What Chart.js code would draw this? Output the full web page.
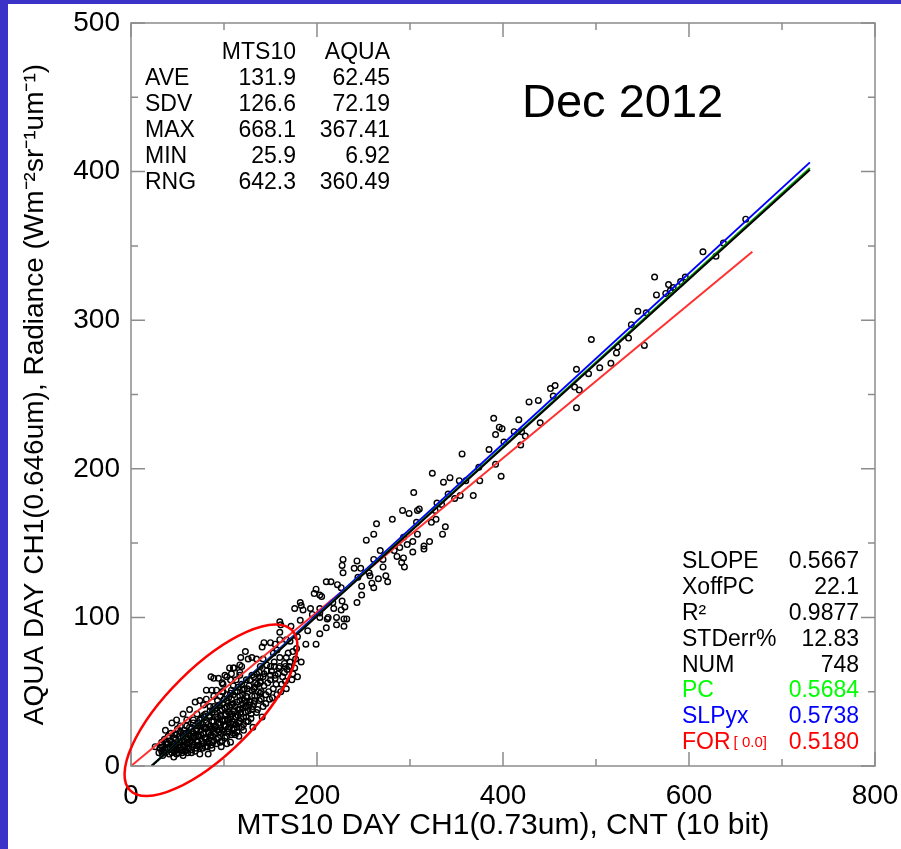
<!DOCTYPE html>
<html>
<head>
<meta charset="utf-8">
<script src="https://cdn.jsdelivr.net/npm/chart.js@4.4.1/dist/chart.umd.min.js"></script>
<style>
  html, body { margin: 0; padding: 0; background: #3b33c8; }
  #wrap { position: absolute; left: 8px; top: 4px; width: 893px; height: 845px; background: #fff; }
</style>
</head>
<body>
<div id="wrap"><canvas id="myChart" width="893" height="845"></canvas></div>
<script>
// MTS10 counts (x) and AQUA radiance (y)
const mtsCounts = [
  661, 637, 615, 629, 563, 578, 591, 596, 565, 575, 580, 583, 545, 554, 538, 495, 535, 523, 522, 552,
  479, 492, 504, 516, 477, 482, 479,
  456, 451, 454, 438, 428, 440, 417, 412, 420, 424, 419, 390, 396, 399, 392, 401, 385, 356, 374, 392,
  398, 375, 324, 336, 343, 353, 360, 341, 354, 348, 368, 329, 334, 327, 323, 328, 338,
  304, 335, 292, 299, 308, 310, 281, 264, 307, 261, 253, 293, 297, 303, 308, 321, 315, 315, 303, 289,
  283, 268, 286, 293, 291, 294, 261, 271, 271, 228, 243, 240, 247, 228, 244, 256, 257, 266, 274, 276,
  248, 259, 261, 248, 210, 215, 222, 226, 199, 197, 205, 227, 230, 243, 217, 218, 226, 203, 195, 203,
  212, 221, 232, 182, 185,
  227, 203, 183, 176, 193, 203, 211, 229, 229, 221, 210, 203, 190, 182, 172, 160, 161, 160, 167, 171,
  179, 188, 199, 178, 174, 160, 155, 150, 143, 141, 157, 153, 160, 167, 169, 165, 166, 160, 154, 150,
  146, 150, 155, 142, 135, 123, 118, 126, 130, 119, 110, 106, 139, 135, 142, 130, 124, 139, 132, 117,
  113, 110, 103, 99, 98, 107,
  117, 111, 117, 108, 86, 89, 94, 98, 101, 107, 81, 87, 92, 99, 108, 115, 121, 124, 133, 139,
  139, 132, 124, 124, 130, 117, 110, 103, 96, 89, 81, 74, 69, 78, 85, 92, 101, 107, 112, 117,
  124, 121, 63, 56, 71, 78, 85, 94, 101, 107, 114, 37, 44, 49, 53, 60, 67, 74, 81, 89,
  98, 105, 112, 40, 47, 56, 63, 72, 80, 89, 96, 103, 33, 38, 46, 53, 62, 71, 80, 87,
  31, 37, 44, 51, 58, 65, 74, 83, 56, 46, 34, 26,
  30, 32, 35, 36, 39, 41, 42, 43, 45, 47, 48, 50, 51, 52, 54, 55, 57, 58, 59, 60,
  61, 62, 64, 65, 66, 67, 68, 69, 70, 71, 72, 73, 75, 76, 77, 78, 79, 80, 82, 83,
  84, 85, 86, 87, 88, 89, 90, 91, 92, 93, 94, 95, 96, 97, 98, 99, 100, 101, 102, 103,
  104, 105, 106, 107, 108, 109, 110, 111, 112, 113, 114, 115, 116, 117, 118, 119, 120, 121, 122, 123,
  125, 126, 127, 128, 129, 130, 131, 133, 134, 136, 137, 138, 140, 141, 143, 145, 146, 148, 150, 152,
  154, 156, 158, 161, 163, 166, 168, 171, 174, 177,
  33, 34, 37, 38, 40, 40, 42, 44, 44, 46, 46, 48, 49, 49, 50, 52, 53, 53, 55, 56,
  56, 57, 58, 59, 60, 61, 62, 63, 63, 64, 65, 66, 66, 67, 68, 69, 70, 70, 71, 72,
  73, 74, 74, 75, 76, 77, 78, 78, 79, 80, 81, 81, 82, 83, 84, 84, 85, 86, 87, 87,
  88, 89, 90, 90, 91, 92, 93, 93, 94, 95, 96, 96, 97, 98, 98, 99, 100, 100, 101, 102,
  103, 103, 104, 105, 105, 106, 107, 108, 108, 109, 110, 110, 111, 112, 113, 114, 114, 115, 116, 117,
  118, 119, 120, 120, 121, 122, 123, 124, 125, 126, 127, 128, 129, 130, 131, 132, 133, 135, 136, 138,
  139, 140, 142, 143, 145, 147, 149, 151, 153, 155, 157, 159, 162, 165, 167, 170, 173, 176, 179, 183
];
const aquaRadiance = [
  368, 352, 346, 343, 329, 324, 326, 329, 317, 318, 320, 322, 306, 305, 297, 287, 288, 282, 278, 283,
  267, 264, 268, 271, 255, 253, 241,
  256, 254, 249, 246, 245, 231, 233, 225, 225, 222, 216, 234, 228, 227, 223, 218, 213, 210, 201, 203,
  195, 192, 197, 191, 194, 192, 192, 183, 182, 180, 182, 177, 176, 172, 164, 166, 161,
  184, 156, 172, 170, 172, 173, 166, 163, 164, 156, 152, 154, 149, 151, 156, 151, 148, 146, 144, 147,
  145, 145, 141, 140, 137, 134, 139, 139, 134, 139, 138, 133, 133, 130, 127, 130, 128, 126, 128, 124,
  121, 123, 120, 115, 124, 124, 122, 120, 119, 116, 114, 111, 107, 110, 110, 106, 105, 106, 102, 100,
  100, 100, 99, 110, 105,
  135, 115, 108, 106, 106, 103, 99, 99, 94, 95, 93, 89, 91, 98, 94, 97, 95, 90, 85, 84,
  87, 82, 82, 79, 77, 85, 82, 83, 83, 80, 78, 76, 73, 73, 76, 69, 67, 67, 67, 67,
  64, 61, 61, 72, 72, 77, 73, 72, 73, 67, 66, 66, 67, 62, 60, 61, 58, 56, 52, 61,
  58, 54, 60, 55, 50, 49,
  68, 66, 63, 62, 60, 59, 59, 56, 61, 58, 51, 51, 51, 50, 51, 53, 51, 47, 53, 57,
  49, 42, 43, 40, 38, 38, 42, 44, 47, 47, 45, 44, 43, 41, 40, 39, 39, 35, 33, 30,
  33, 24, 38, 35, 35, 34, 33, 32, 31, 29, 26, 24, 29, 31, 27, 31, 29, 27, 26, 25,
  24, 23, 21, 20, 21, 22, 21, 20, 19, 17, 16, 15, 16, 15, 15, 16, 15, 14, 13, 12,
  12, 11, 11, 9, 11, 9, 8, 8, 7, 6, 7, 13,
  9, 14, 10, 18, 12, 8, 17, 22, 13, 10, 18, 25, 14, 20, 11, 17, 24, 13, 19, 27,
  9, 22, 17, 25, 13, 31, 20, 10, 24, 17, 29, 14, 21, 32, 12, 26, 19, 35, 16, 28,
  22, 37, 14, 30, 20, 40, 26, 33, 18, 44, 29, 23, 37, 13, 31, 42, 27, 19, 35, 48,
  25, 31, 40, 16, 45, 30, 22, 37, 50, 28, 43, 34, 20, 47, 32, 55, 39, 28, 44, 36,
  52, 30, 41, 58, 35, 47, 26, 44, 56, 38, 50, 63, 45, 33, 54, 42, 68, 50, 58, 46,
  70, 55, 62, 50, 60, 57, 65, 70, 62, 72,
  10, 13, 9, 16, 11, 15, 12, 9, 16, 19, 12, 14, 8, 21, 11, 16, 13, 23, 9, 20,
  14, 17, 10, 22, 15, 18, 12, 26, 16, 20, 11, 23, 16, 19, 14, 27, 21, 12, 25, 16,
  20, 31, 13, 24, 17, 28, 22, 15, 33, 25, 18, 29, 13, 23, 34, 17, 27, 21, 36, 25,
  16, 30, 22, 38, 27, 15, 33, 24, 19, 41, 28, 34, 22, 17, 38, 30, 23, 45, 34, 27,
  20, 40, 31, 46, 36, 26, 33, 21, 41, 35, 28, 48, 25, 40, 33, 23, 50, 38, 29, 44,
  36, 26, 48, 42, 33, 52, 40, 30, 46, 37, 54, 43, 32, 51, 40, 60, 47, 36, 55, 44,
  60, 50, 40, 62, 48, 56, 45, 64, 52, 59, 48, 66, 55, 63, 52, 67, 58, 66, 60, 70
];

// fit lines: [x0, x1] and [y0, y1]
const fitLineX = [22.1, 730];
const slopeLineY = [0, 401.2];   // SLOPE 0.5667, black
const pcLineY = [0, 402.4];      // PC 0.5684, green
const slpyxLineY = [0, 406.2];   // SLPyx 0.5738, blue
const forLineX = [0, 668.1];
const forLineY = [0, 346.1];     // FOR 0.5180, red

// axis ticks
const xMajorTicks = [0, 200, 400, 600, 800];
const xMinorTicks = [100, 300, 500, 700];
const yMajorTicks = [0, 100, 200, 300, 400, 500];
const yMinorTicks = [50, 150, 250, 350, 450];

// statistics text
const statHeaders = ['MTS10', 'AQUA'];
const statRows = ['AVE', 'SDV', 'MAX', 'MIN', 'RNG'];
const mtsStats = ['131.9', '126.6', '668.1', '25.9', '642.3'];
const aquaStats = ['62.45', '72.19', '367.41', '6.92', '360.49'];
const fitLabels = ['SLOPE', 'XoffPC', 'R²', 'STDerr%', 'NUM', 'PC', 'SLPyx', 'FOR'];
const fitValues = ['0.5667', '22.1', '0.9877', '12.83', '748', '0.5684', '0.5738', '0.5180'];
const fitColors = ['#000', '#000', '#000', '#000', '#000', '#00ff00', '#0000ff', '#ff0000'];
const monthLabel = 'Dec 2012';

// hand drawn ellipse round the low cluster (data units)
const ellipseCenter = [86, 37.5];
const ellipseTip = [173, 91.4];
const ellipseRatio = 0.38;

const FONT = "'Liberation Sans', Arial, Helvetica, sans-serif";

const points = mtsCounts.map((v, i) => ({ x: v, y: aquaRadiance[i] }));

function lineData(xs, ys) {
  return xs.map((v, i) => ({ x: v, y: ys[i] }));
}

function lineSet(xs, ys, color) {
  return {
    type: 'line',
    data: lineData(xs, ys),
    borderColor: color,
    borderWidth: 2,
    pointRadius: 0,
    fill: false,
    tension: 0,
  };
}

// frame, inward ticks, text blocks and the ellipse
const decorations = {
  id: 'decorations',
  afterDraw(chart) {
    const { ctx, chartArea: a, scales: { x, y } } = chart;
    ctx.save();
    ctx.strokeStyle = '#8c8c8c';
    ctx.lineWidth = 1.5;
    ctx.strokeRect(a.left, a.top, a.right - a.left, a.bottom - a.top);

    ctx.beginPath();
    const xTick = (v, len) => {
      const px = x.getPixelForValue(v);
      ctx.moveTo(px, a.bottom); ctx.lineTo(px, a.bottom - len);
      ctx.moveTo(px, a.top); ctx.lineTo(px, a.top + len);
    };
    const yTick = (v, len) => {
      const py = y.getPixelForValue(v);
      ctx.moveTo(a.left, py); ctx.lineTo(a.left + len, py);
      ctx.moveTo(a.right, py); ctx.lineTo(a.right - len, py);
    };
    xMajorTicks.forEach(v => xTick(v, 14));
    xMinorTicks.forEach(v => xTick(v, 7));
    yMajorTicks.forEach(v => yTick(v, 14));
    yMinorTicks.forEach(v => yTick(v, 7));
    ctx.stroke();

    // top-left stats
    ctx.fillStyle = '#000';
    ctx.font = '23px ' + FONT;
    ctx.textBaseline = 'middle';
    ctx.textAlign = 'right';
    ctx.fillText(statHeaders[0], a.left + 165, a.top + 30);
    ctx.fillText(statHeaders[1], a.left + 259, a.top + 30);
    statRows.forEach((lab, i) => {
      const ty = a.top + 56 + 26 * i;
      ctx.textAlign = 'left';
      ctx.fillText(lab, a.left + 14, ty);
      ctx.textAlign = 'right';
      ctx.fillText(mtsStats[i], a.left + 165, ty);
      ctx.fillText(aquaStats[i], a.left + 259, ty);
    });

    ctx.textAlign = 'left';
    ctx.font = '47px ' + FONT;
    ctx.fillText(monthLabel, a.left + 391, a.top + 81);

    // bottom-right fit stats
    fitLabels.forEach((lab, i) => {
      const ty = a.top + 539 + 25.8 * i;
      ctx.fillStyle = fitColors[i];
      ctx.font = '23px ' + FONT;
      ctx.textAlign = 'left';
      ctx.fillText(lab, a.left + 551, ty);
      if (lab === 'FOR') {
        const w = ctx.measureText(lab).width;
        ctx.font = '15px ' + FONT;
        ctx.fillText('[ 0.0]', a.left + 551 + w + 3, ty);
        ctx.font = '23px ' + FONT;
      }
      ctx.textAlign = 'right';
      ctx.fillText(fitValues[i], a.left + 728, ty);
    });

    // ellipse
    const cx = x.getPixelForValue(ellipseCenter[0]);
    const cy = y.getPixelForValue(ellipseCenter[1]);
    const tx = x.getPixelForValue(ellipseTip[0]);
    const ty = y.getPixelForValue(ellipseTip[1]);
    const major = Math.hypot(tx - cx, ty - cy);
    ctx.beginPath();
    ctx.ellipse(cx, cy, major, major * ellipseRatio, Math.atan2(ty - cy, tx - cx), 0, Math.PI * 2);
    ctx.strokeStyle = '#ff0000';
    ctx.lineWidth = 2.5;
    ctx.stroke();
    ctx.restore();
  }
};

const ctx = document.getElementById('myChart').getContext('2d');

const config = {
  type: 'scatter',
  data: {
    datasets: [
      lineSet(fitLineX, slopeLineY, '#000000'),
      lineSet(fitLineX, pcLineY, '#00a000'),
      lineSet(fitLineX, slpyxLineY, '#0000ff'),
      lineSet(forLineX, forLineY, '#ff3030'),
      {
        data: points,
        pointStyle: 'circle',
        pointRadius: 2.8,
        pointBorderWidth: 1.4,
        pointBorderColor: '#000',
        pointBackgroundColor: 'rgba(0,0,0,0)',
      },
    ],
  },
  options: {
    responsive: false,
    animation: false,
    devicePixelRatio: 1,
    layout: { padding: { top: 19, right: 26, left: 0, bottom: 0 } },
    plugins: {
      legend: { display: false },
      tooltip: { enabled: false },
    },
    scales: {
      x: {
        type: 'linear',
        min: 0,
        max: 800,
        afterFit: s => { s.height = 83; s.paddingLeft = 0; s.paddingRight = 0; },
        grid: { display: false },
        border: { display: false },
        ticks: {
          stepSize: 200,
          padding: 5,
          color: '#000',
          font: { family: FONT, size: 28 },
        },
        title: {
          display: true,
          text: 'MTS10 DAY CH1(0.73um), CNT (10 bit)',
          color: '#000',
          font: { family: FONT, size: 30 },
          padding: { top: 0, bottom: 5 },
        },
      },
      y: {
        type: 'linear',
        min: 0,
        max: 500,
        afterFit: s => { s.width = 123; s.paddingTop = 0; s.paddingBottom = 0; },
        grid: { display: false },
        border: { display: false },
        ticks: {
          stepSize: 100,
          padding: 3,
          color: '#000',
          font: { family: FONT, size: 28 },
        },
        title: {
          display: true,
          text: 'AQUA DAY CH1(0.646um), Radiance (Wm⁻²sr⁻¹um⁻¹)',
          color: '#000',
          font: { family: FONT, size: 28 },
          padding: { top: 10, bottom: 0 },
        },
      },
    },
  },
  plugins: [decorations],
};

const radianceChart = new Chart(ctx, config);
</script>
</body>
</html>
